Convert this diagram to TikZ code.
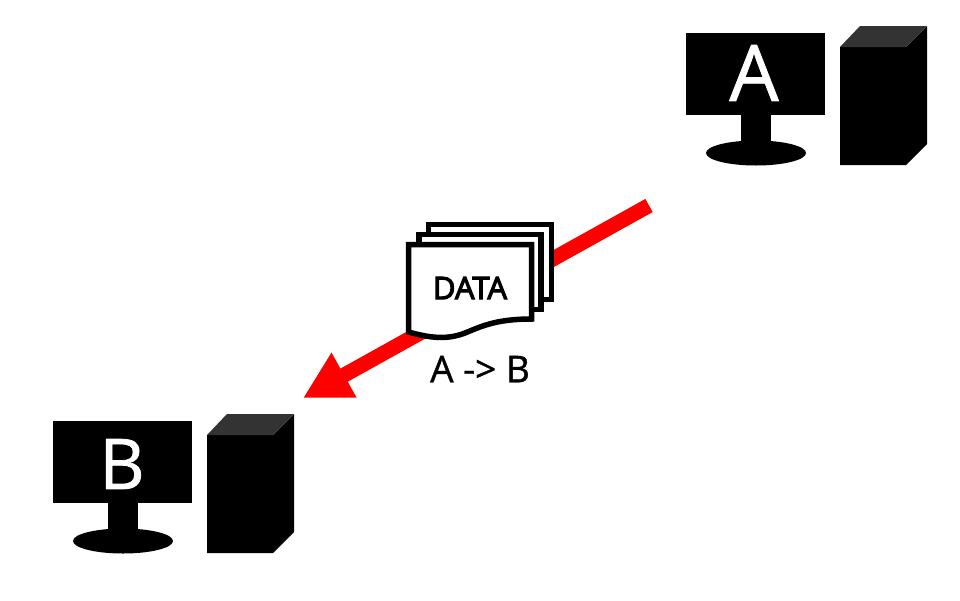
\documentclass[tikz,border=0pt]{standalone}
\usepackage{fontspec}
\setmainfont{Open Sans}
\newfontfamily\semifont[FakeBold=3.5]{Open Sans}
\newfontfamily\lightbold[FakeBold=1]{Open Sans}
\usetikzlibrary{arrows.meta}
\definecolor{towertop}{HTML}{333333}
\tikzset{
  x=1pt,y=-1pt,
  screenbox/.style={fill=black,text=white,inner sep=0pt,minimum width=139pt,minimum height=82pt,anchor=north west},
  sheet/.style={draw=black,fill=white,line width=5.5pt,miter limit=10},
  flow/.style={draw=red,line width=15pt,-{Triangle[length=47pt,width=48pt,fill=red]}},
  pics/computer/.style={code={
    \fill[black] (55,82) rectangle (85,110);
    \fill[black] (70,120) ellipse [x radius=50pt,y radius=12.5pt];
    \fill[black] (154,14) -- (220,14) -- (241,-7) -- (241,111) -- (220,132) -- (154,132) -- cycle;
    \fill[towertop] (154,14) -- (174,-7) -- (241,-7) -- (220,14) -- cycle;
  }}
}
\begin{document}
\begin{tikzpicture}
\useasboundingbox (0,0) rectangle (960,600);
\fill[white] (0,0) rectangle (960,600);
\pic at (686,33) {computer};
\pic at (53,421) {computer};
\node[screenbox] (screenA) at (686,33) {};
\node[screenbox] (screenB) at (53,421) {};
\node[text=white,font=\lightbold\fontsize{78}{78}\selectfont,inner sep=0pt] (labelA) at (754,73) {A};
\node[text=white,font=\lightbold\fontsize{70}{70}\selectfont,inner sep=0pt] (labelB) at (122,464) {B};
\coordinate (from) at (649,205.5);
\coordinate (to) at (303,398);
\draw[flow] (from) -- (to);
\draw[sheet] (428.5,224.5) rectangle (551.5,299.5);
\draw[sheet] (419,234.5) rectangle (541,309.5);
\draw[sheet,line join=miter] (408.5,244.5) -- (531.5,244.5) -- (531.5,319) .. controls (495,319) and (480,327) .. (465,333) .. controls (447,340) and (430,338) .. (408.5,332) -- cycle;
\node[font=\semifont\fontsize{31}{31}\selectfont,inner sep=0pt] (data) at (470,288) {DATA};
\node[font=\lightbold\fontsize{37}{37}\selectfont,inner sep=0pt] (route) at (480,369) {A -> B};
\end{tikzpicture}
\end{document}
